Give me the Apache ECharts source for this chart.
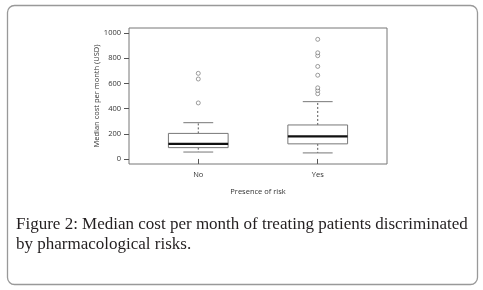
<!DOCTYPE html>
<html>
<head>
<meta charset="utf-8">
<script src="https://cdn.jsdelivr.net/npm/echarts@6/dist/echarts.min.js"></script>
<style>
  html, body { margin: 0; padding: 0; background: #fff; }
  #chart { width: 483px; height: 290px; }
</style>
</head>
<body>
<div id="chart"></div>
<script>
// categories on the x axis (placed at 1 and 2 like R does)
const categories = ["No", "Yes"];
const positions = [1, 2];
// [lower whisker, Q1, median, Q3, upper whisker]
const boxNo = [55, 90, 120, 203, 288];
const boxYes = [48, 120, 180, 270, 455];
// outliers
const outliersNo = [445, 635, 680];
const outliersYes = [518, 544, 565, 665, 735, 820, 843, 950];
const yTicks = [0, 200, 400, 600, 800, 1000];

const chart = echarts.init(document.getElementById("chart"));

const boxData = [
  [positions[0]].concat(boxNo),
  [positions[1]].concat(boxYes),
];
const outlierData = []
  .concat(outliersNo.map((v) => [positions[0], v]))
  .concat(outliersYes.map((v) => [positions[1], v]));

function renderBox(params, api) {
  const x = api.value(0);
  const lo = api.coord([x, api.value(1)]);
  const q1 = api.coord([x, api.value(2)]);
  const med = api.coord([x, api.value(3)]);
  const q3 = api.coord([x, api.value(4)]);
  const hi = api.coord([x, api.value(5)]);
  const half = api.size([0.25, 0])[0];
  const cap = half / 2;
  const cx = lo[0];
  return {
    type: "group",
    children: [
      // whiskers (dashed)
      { type: "line", shape: { x1: cx, y1: q3[1], x2: cx, y2: hi[1] },
        style: { stroke: "#555", lineWidth: 1, lineDash: [2, 2] } },
      { type: "line", shape: { x1: cx, y1: q1[1], x2: cx, y2: lo[1] },
        style: { stroke: "#555", lineWidth: 1, lineDash: [2, 2] } },
      // caps
      { type: "line", shape: { x1: cx - cap, y1: hi[1], x2: cx + cap, y2: hi[1] },
        style: { stroke: "#777", lineWidth: 1 } },
      { type: "line", shape: { x1: cx - cap, y1: lo[1], x2: cx + cap, y2: lo[1] },
        style: { stroke: "#777", lineWidth: 1 } },
      // box
      { type: "rect", shape: { x: cx - half, y: q3[1], width: half * 2, height: q1[1] - q3[1] },
        style: { fill: "#fff", stroke: "#777", lineWidth: 1 } },
      // median
      { type: "line", shape: { x1: cx - half, y1: med[1], x2: cx + half, y2: med[1] },
        style: { stroke: "#111", lineWidth: 2.2 } },
    ],
  };
}

const option = {
  animation: false,
  backgroundColor: "#fff",
  textStyle: { fontFamily: "Open Sans" },
  grid: {
    left: 129, right: 96, top: 28, bottom: 126,
    show: true, borderColor: "#777", borderWidth: 1, backgroundColor: "transparent",
  },
  xAxis: {
    type: "value",
    min: 0.42, max: 2.58,
    name: "Presence of risk",
    nameLocation: "middle",
    nameGap: 24,
    nameMoveOverlap: false,
    nameTextStyle: { fontSize: 7.5, color: "#333" },
    axisLine: { show: false },
    splitLine: { show: false },
    axisTick: { show: true, length: 5, customValues: positions, lineStyle: { color: "#555" } },
    axisLabel: {
      fontSize: 7.5, color: "#333", margin: 7,
      customValues: positions,
      formatter: (v) => categories[positions.indexOf(v)] || "",
    },
  },
  yAxis: {
    type: "value",
    min: -40, max: 1040,
    name: "Median cost per month (USD)",
    nameLocation: "middle",
    nameGap: 28,
    nameMoveOverlap: false,
    nameRotate: 90,
    nameTextStyle: { fontSize: 7.5, color: "#333" },
    axisLine: { show: false },
    splitLine: { show: false },
    axisTick: { show: true, length: 5, customValues: yTicks, lineStyle: { color: "#555" } },
    axisLabel: {
      fontSize: 7.5, color: "#333", margin: 8, customValues: yTicks,
      formatter: (v) => String(v),
    },
  },
  graphic: [
    {
      type: "rect",
      shape: { x: 7.5, y: 5.5, width: 470, height: 279, r: 7 },
      style: { fill: "none", stroke: "#999", lineWidth: 1.3 },
      silent: true,
    },
    {
      type: "text", left: 16, top: 216,
      style: {
        text: "Figure 2: Median cost per month of treating patients discriminated",
        font: "17px 'Liberation Serif'", fill: "#231f20",
      },
    },
    {
      type: "text", left: 16, top: 236,
      style: {
        text: "by pharmacological risks.",
        font: "17px 'Liberation Serif'", fill: "#231f20",
      },
    },
  ],
  series: [
    {
      type: "custom",
      renderItem: renderBox,
      data: boxData,
      encode: { x: 0, y: [1, 2, 3, 4, 5] },
      z: 2,
    },
    {
      type: "scatter",
      data: outlierData,
      symbol: "circle",
      symbolSize: 4,
      itemStyle: { color: "#fff", borderColor: "#666", borderWidth: 0.8 },
      z: 3,
    },
  ],
};

chart.setOption(option);
</script>
</body>
</html>
